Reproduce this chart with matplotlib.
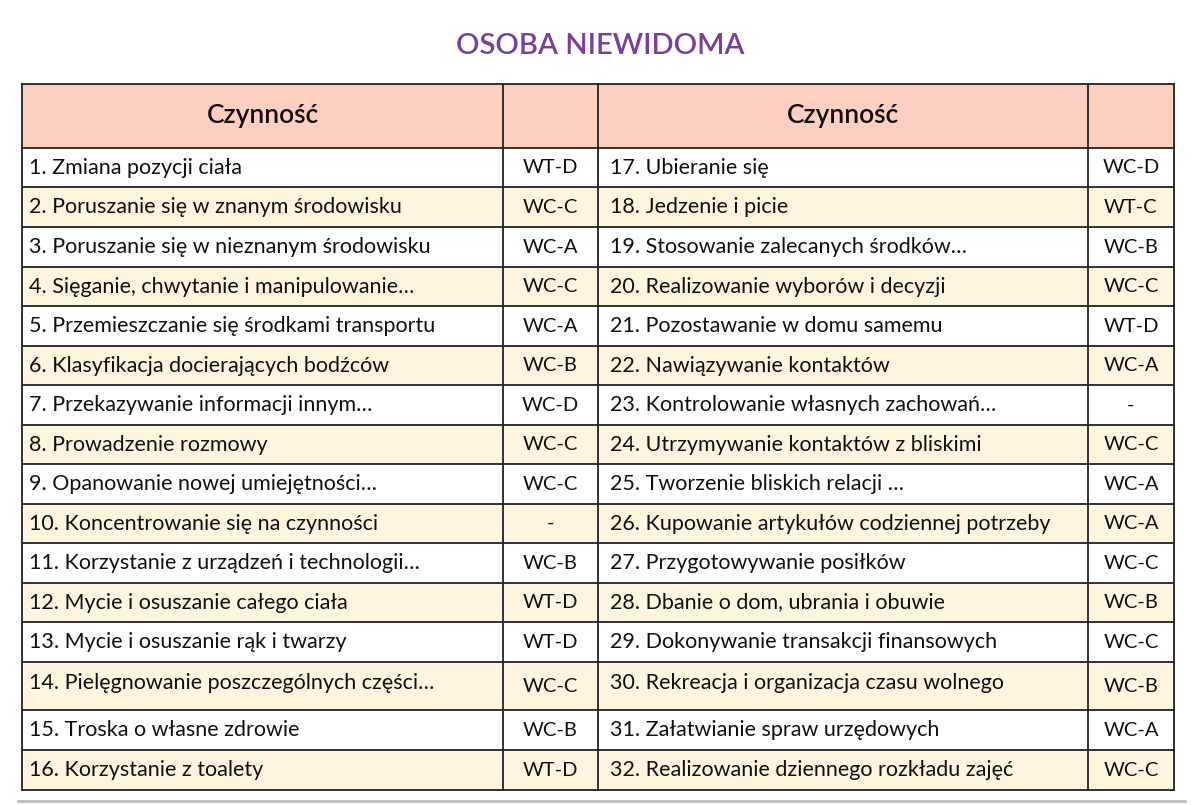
import matplotlib
matplotlib.use("Agg")
import matplotlib.pyplot as plt
from matplotlib.patches import Rectangle

title = "OSOBA NIEWIDOMA"
header = "Czynność"
left_items = ["1. Zmiana pozycji ciała", "2. Poruszanie się w znanym środowisku",
    "3. Poruszanie się w nieznanym środowisku", "4. Sięganie, chwytanie i manipulowanie…",
    "5. Przemieszczanie się środkami transportu", "6. Klasyfikacja docierających bodźców",
    "7. Przekazywanie informacji innym…", "8. Prowadzenie rozmowy",
    "9. Opanowanie nowej umiejętności…", "10. Koncentrowanie się na czynności",
    "11. Korzystanie z urządzeń i technologii…", "12. Mycie i osuszanie całego ciała",
    "13. Mycie i osuszanie rąk i twarzy", "14. Pielęgnowanie poszczególnych części…",
    "15. Troska o własne zdrowie", "16. Korzystanie z toalety"]
left_codes = ["WT-D", "WC-C", "WC-A", "WC-C", "WC-A", "WC-B", "WC-D", "WC-C",
    "WC-C", "-", "WC-B", "WT-D", "WT-D", "WC-C", "WC-B", "WT-D"]
right_items = ["17. Ubieranie się", "18. Jedzenie i picie", "19. Stosowanie zalecanych środków…",
    "20. Realizowanie wyborów i decyzji", "21. Pozostawanie w domu samemu",
    "22. Nawiązywanie kontaktów", "23. Kontrolowanie własnych zachowań…",
    "24. Utrzymywanie kontaktów z bliskimi", "25. Tworzenie bliskich relacji …",
    "26. Kupowanie artykułów codziennej potrzeby", "27. Przygotowywanie posiłków",
    "28. Dbanie o dom, ubrania i obuwie", "29. Dokonywanie transakcji finansowych",
    "30. Rekreacja i organizacja czasu wolnego", "31. Załatwianie spraw urzędowych",
    "32. Realizowanie dziennego rozkładu zajęć"]
right_codes = ["WC-D", "WT-C", "WC-B", "WC-C", "WT-D", "WC-A", "-", "WC-C",
    "WC-A", "WC-A", "WC-C", "WC-B", "WC-C", "WC-B", "WC-A", "WC-C"]

plt.rcParams['font.family'] = ['Lato', 'DejaVu Sans']
fig = plt.figure(figsize=(12, 8.05), dpi=100)
ax = fig.add_axes([0, 0, 1, 1])
ax.set_xlim(0, 1200); ax.set_ylim(805, 0); ax.axis('off')

cols = [22, 503, 598, 1088, 1174]
rows = [84, 148, 187, 227, 267, 306, 346, 385, 425, 464, 504, 543, 583, 622, 662, 710, 750, 790]
hdr_c = "#FCCFC0"; cream = "#FFF4DE"
lw = 1.3

ax.text(600, 46, title, ha='center', va='center', fontsize=21, color="#7A3E9D", fontweight='semibold')

ax.add_patch(Rectangle((cols[0], rows[0]), cols[-1]-cols[0], rows[1]-rows[0], color=hdr_c, lw=0))
for i in range(16):
    if i % 2 == 1:
        ax.add_patch(Rectangle((cols[0], rows[i+1]), cols[-1]-cols[0], rows[i+2]-rows[i+1], color=cream, lw=0))
for x in cols:
    ax.plot([x, x], [rows[0], rows[-1]], color='#222', lw=lw)
for y in rows:
    ax.plot([cols[0], cols[-1]], [y, y], color='#222', lw=lw)
ax.plot([18, 1185], [801, 801], color='#bbbbbb', lw=2)

for c0, c1 in [(0, 1), (2, 3)]:
    ax.text((cols[c0]+cols[c1])/2, (rows[0]+rows[1])/2, header, ha='center', va='center',
            fontsize=19, color='#111', fontweight='semibold')

for i in range(16):
    yc = (rows[i+1]+rows[i+2])/2
    ty = yc - 3 if i == 13 else yc
    ax.text(cols[0]+7, ty, left_items[i], ha='left', va='center', fontsize=15.5, color='#111')
    ax.text((cols[1]+cols[2])/2, yc, left_codes[i], ha='center', va='center', fontsize=14.5, color='#111')
    ax.text(cols[2]+12, ty, right_items[i], ha='left', va='center', fontsize=15.5, color='#111')
    ax.text((cols[3]+cols[4])/2, yc, right_codes[i], ha='center', va='center', fontsize=14.5, color='#111')

fig.savefig("out.png", dpi=100, facecolor='white')
